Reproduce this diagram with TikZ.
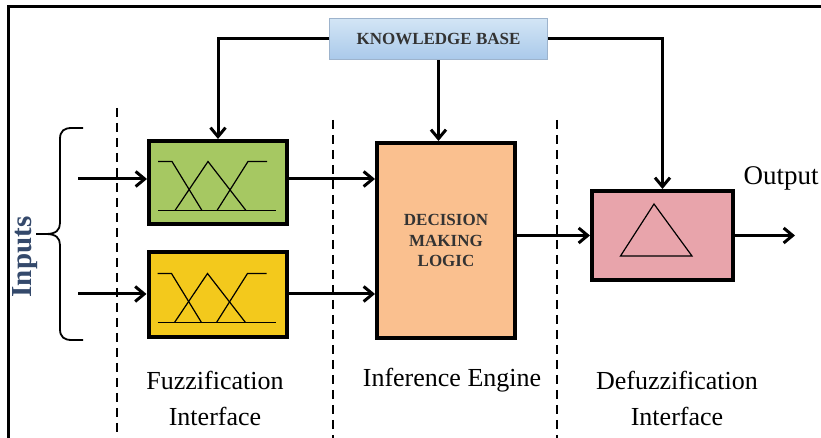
\documentclass[tikz,border=0pt]{standalone}
\usepackage{fontspec}
\setmainfont{Liberation Serif}
\usepackage{tikz}
\usetikzlibrary{positioning,arrows.meta}
\usepackage{xcolor}

\definecolor{kbtop}{HTML}{D3E5F5}
\definecolor{kbbottom}{HTML}{A9C9EA}
\definecolor{kbedge}{HTML}{9DB3CC}
\definecolor{fuzzgreen}{HTML}{A6C862}
\definecolor{fuzzyellow}{HTML}{F3C91C}
\definecolor{inferorange}{HTML}{FAC08F}
\definecolor{defuzzpink}{HTML}{E8A4AB}
\definecolor{inputblue}{HTML}{34496B}
\definecolor{darktext}{HTML}{333333}

\begin{document}
\begin{tikzpicture}[
    x=0.5pt, y=-0.5pt,
    block/.style={draw, line width=2pt, inner sep=0pt, minimum width=69pt},
    kbbox/.style={draw=kbedge, line width=0.6pt, top color=kbtop, bottom color=kbbottom,
        minimum width=109pt, minimum height=20.5pt, inner sep=0pt,
        font=\bfseries\fontsize{8.5}{10}\selectfont, text=darktext},
    memb/.style={line width=0.6pt},
    divider/.style={line width=0.8pt, dash pattern=on 4.5pt off 3pt},
    flow/.style={->, line width=1.5pt},
    caption/.style={font=\fontsize{13}{18}\selectfont, align=center},
    >={Straight Barb[length=4.5pt,width=7.5pt]}
]
\useasboundingbox (0,0) rectangle (821,438);

% ----- Frame -----
\draw[line width=1.5pt] (8,440) -- (8,7) -- (823,7);

% ----- Dividers -----
\foreach \x/\y in {117/108, 333/120, 557/120}{
    \draw[divider] (\x,\y) -- (\x,440);
}

% ----- Knowledge base -----
\node[kbbox] (kb) at (438.5,39) {KNOWLEDGE BASE};

% ----- Fuzzification -----
\node[block, fill=fuzzgreen, minimum height=41.5pt] (fuzz1) at (218,182.5) {};
\node[block, fill=fuzzyellow, minimum height=42.5pt] (fuzz2) at (217.5,294.5) {};
\foreach \b in {fuzz1,fuzz2}{
    \begin{scope}[shift={(\b.center)}]
        \draw[memb] (-60,28) -- (58,28);
        \draw[memb] (-60,-21) -- (-46,-21) -- (-16,28);
        \draw[memb] (-43,28) -- (-10,-21) -- (28,28);
        \draw[memb] (-1,28) -- (30,-21) -- (49,-21);
    \end{scope}
}

% ----- Inference engine -----
\node[block, fill=inferorange, minimum height=97.5pt, align=center,
    font=\bfseries\fontsize{8.5}{10.25}\selectfont, text=darktext] (dml) at (446,240.5)
    {DECISION\\MAKING\\LOGIC};

% ----- Defuzzification -----
\node[block, fill=defuzzpink, minimum width=70.5pt, minimum height=44.5pt] (defuzz) at (662.5,235.5) {};
\begin{scope}[shift={(defuzz.center)}]
    \draw[memb] (-42,20.5) -- (-8.5,-31.5) -- (29.5,20.5) -- cycle;
\end{scope}

% ----- Inputs -----
\coordinate (in1) at (78,179);
\coordinate (in2) at (78,294);
\draw[line width=0.9pt] (83,128) -- (72,128) .. controls (64,128) and (60,131) .. (60,139)
    -- (60,223) .. controls (60,230) and (56,234) .. (46,234) -- (36,234);
\draw[line width=0.9pt] (83,340) -- (72,340) .. controls (64,340) and (60,337) .. (60,329)
    -- (60,245) .. controls (60,238) and (56,234) .. (46,234);
\node[rotate=90, font=\bfseries\fontsize{14.5}{16}\selectfont, text=inputblue] (inlabel) at (25,257) {Inputs};

% ----- Connections -----
\draw[flow] (in1) -- (in1 -| fuzz1.west);
\draw[flow] (in2) -- (in2 -| fuzz2.west);
\draw[flow] (fuzz1.east |- in1) -- (in1 -| dml.west);
\draw[flow] (fuzz2.east |- in2) -- (in2 -| dml.west);
\draw[flow] (kb.west) -| (fuzz1.north);
\draw[flow] (kb.south) -- (kb.south |- dml.north);
\draw[flow] (kb.east) -| (defuzz.north);
\draw[flow] (dml.east |- defuzz.west) -- (defuzz.west);
\coordinate (out) at (795,235.5);
\draw[flow] (defuzz.east) -- (out);
\node[anchor=east, inner xsep=1pt, font=\fontsize{13.5}{16}\selectfont] (outlabel) at (821,178) {Output};

% ----- Captions -----
\node[caption] (fuzzcap) at (215,398) {Fuzzification\\Interface};
\node[caption] (infercap) at (452,380) {Inference Engine};
\node[caption] (defuzzcap) at (677,398) {Defuzzification\\Interface};

\end{tikzpicture}
\end{document}
